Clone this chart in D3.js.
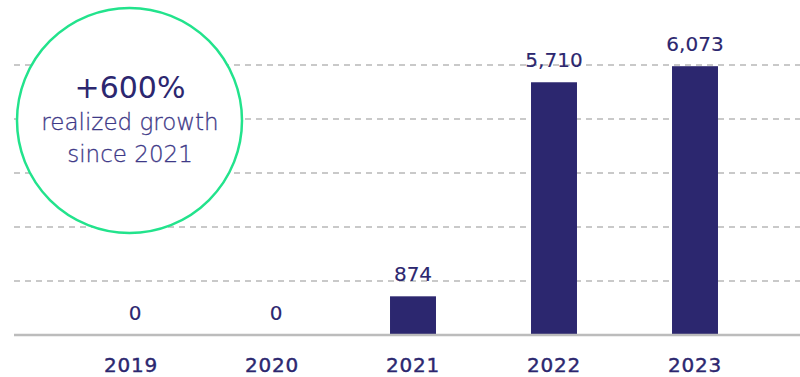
<!DOCTYPE html>
<html>
<head>
<meta charset="utf-8">
<script src="https://cdn.jsdelivr.net/npm/d3@7"></script>
<style>
  body { margin: 0; background: #fff; }
  svg { display: block; font-family: "DejaVu Sans", sans-serif; }
</style>
</head>
<body>
<svg id="chart" width="800" height="377"></svg>
<script>
const years = ["2019", "2020", "2021", "2022", "2023"];
const values = [0, 0, 874, 5710, 6073];
const gridValues = [1220, 2440, 3660, 4880, 6100];
const badgeLines = ["+600%", "realized growth", "since 2021"];

const NAVY = "#2c276f";
const svg = d3.select("#chart");

const x = d3.scaleBand()
  .domain(years)
  .range([60.5, 765.5])
  .paddingInner(0.674)
  .paddingOuter(0.337);

const y = d3.scaleLinear()
  .domain([0, 6100])
  .range([335, 65]);

const fmt = d3.format(",");

// dashed grid
svg.append("g")
  .selectAll("line")
  .data(gridValues)
  .enter()
  .append("line")
  .attr("x1", 14)
  .attr("x2", 800)
  .attr("y1", d => y(d))
  .attr("y2", d => y(d))
  .attr("stroke", "#b8b8b8")
  .attr("stroke-width", 1.4)
  .attr("stroke-dasharray", "6,5");

// badge circle
const badge = svg.append("g");
badge.append("circle")
  .attr("cx", 129.5)
  .attr("cy", 120.5)
  .attr("r", 112.5)
  .attr("fill", "#fff")
  .attr("stroke", "#22e38c")
  .attr("stroke-width", 2.5);

badge.append("text")
  .attr("x", 130)
  .attr("y", 98)
  .attr("text-anchor", "middle")
  .attr("font-size", 30)
  .attr("fill", NAVY)
  .text(badgeLines[0]);

badge.selectAll("text.sub")
  .data(badgeLines.slice(1))
  .enter()
  .append("text")
  .attr("class", "sub")
  .attr("x", 130)
  .attr("y", (d, i) => 130 + i * 31.7)
  .attr("text-anchor", "middle")
  .attr("font-size", 23)
  .attr("font-weight", 200)
  .attr("fill", "#3e3987")
  .attr("stroke", "#3e3987")
  .attr("stroke-width", 0.3)
  .text(d => d);

// bars
svg.append("g")
  .selectAll("rect")
  .data(values)
  .enter()
  .append("rect")
  .attr("x", (d, i) => x(years[i]))
  .attr("y", d => y(d))
  .attr("width", x.bandwidth())
  .attr("height", d => y(0) - y(d))
  .attr("fill", NAVY);

// value labels
svg.append("g")
  .selectAll("text")
  .data(values)
  .enter()
  .append("text")
  .attr("x", (d, i) => x(years[i]) + x.bandwidth() / 2 + (d === 0 ? 4 : 0))
  .attr("y", d => y(d) - 15)
  .attr("text-anchor", "middle")
  .attr("font-size", 20)
  .attr("fill", NAVY)
  .attr("stroke", NAVY)
  .attr("stroke-width", 0.15)
  .text(d => fmt(d));

// baseline
svg.append("line")
  .attr("x1", 14)
  .attr("x2", 800)
  .attr("y1", y(0))
  .attr("y2", y(0))
  .attr("stroke", "#bcbcbc")
  .attr("stroke-width", 2.5);

// year labels
const xAxis = d3.axisBottom(x).tickSize(0).tickPadding(0);
const axisG = svg.append("g")
  .attr("transform", "translate(0,357)")
  .call(xAxis);
axisG.select(".domain").remove();
axisG.selectAll("text")
  .attr("dy", null)
  .attr("y", 15)
  .attr("font-family", "DejaVu Sans, sans-serif")
  .attr("font-size", 20)
  .attr("letter-spacing", 0.8)
  .attr("fill", NAVY)
  .attr("stroke", NAVY)
  .attr("stroke-width", 0.4);
</script>
</body>
</html>
